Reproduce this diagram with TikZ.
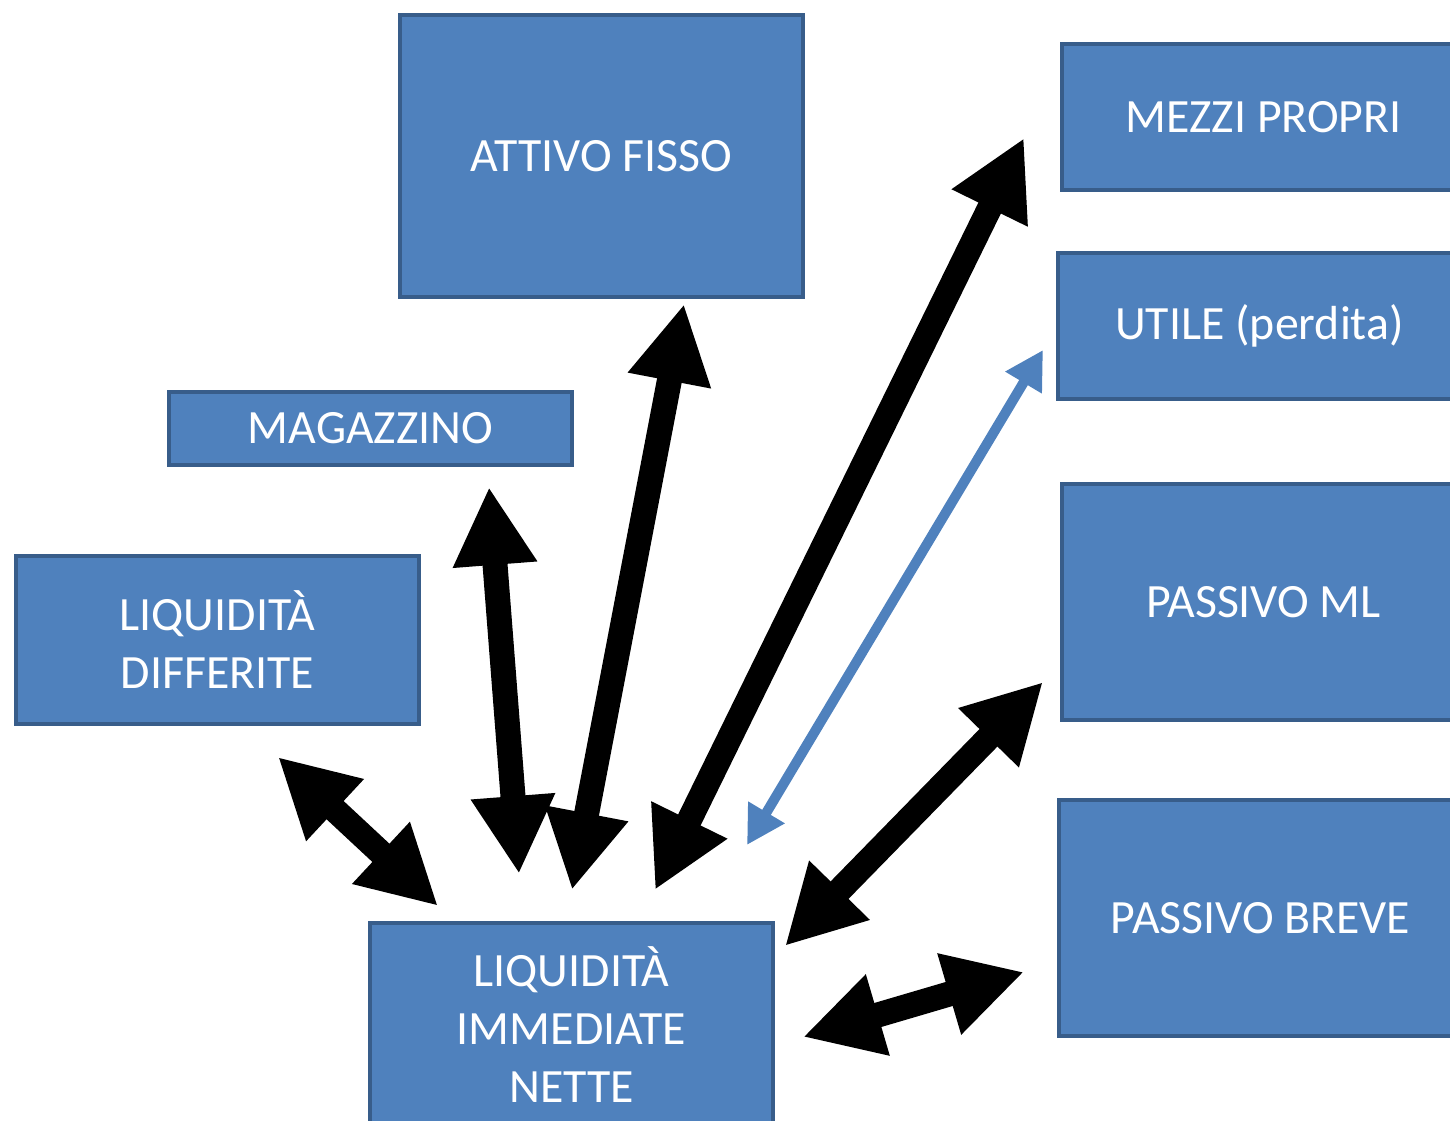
\documentclass[tikz,border=0pt]{standalone}
\usepackage{fontspec}
\setmainfont{Carlito}
\usetikzlibrary{arrows.meta}
\definecolor{boxfill}{HTML}{4F81BD}
\definecolor{boxline}{HTML}{385D8A}
\tikzset{
  conto/.style={draw=boxline, fill=boxfill, line width=1.1pt, text=white, align=center,
    inner sep=0pt, font=\fontsize{13.6}{16.5}\selectfont},
  flusso/.style={line width=0.25cm,
    {Triangle[width=0.79cm,length=0.78cm]}-{Triangle[width=0.79cm,length=0.78cm]}},
  flussoblu/.style={draw=boxfill, line width=0.1cm,
    {Triangle[width=0.4cm,length=0.38cm]}-{Triangle[width=0.4cm,length=0.38cm]}},
}

\begin{document}
\begin{tikzpicture}
	\useasboundingbox (0,0) rectangle (14.5,11.21);
	% attivo
	\node[conto, minimum width=4.03cm, minimum height=2.82cm] (attivo) at (6.015,9.65) {ATTIVO FISSO};
	\node[conto, minimum width=4.03cm, minimum height=0.73cm] (magazzino) at (3.705,6.925) {MAGAZZINO};
	\node[conto, minimum width=4.03cm, minimum height=1.68cm] (differite) at (2.175,4.81) {LIQUIDITÀ\\DIFFERITE};
	\node[conto, minimum width=4.03cm, minimum height=2.04cm] (immediate) at (5.715,0.96) {LIQUIDITÀ\\IMMEDIATE\\NETTE};
	% passivo
	\node[conto, minimum width=4.03cm, minimum height=1.46cm] (mezzi) at (12.635,10.04) {MEZZI PROPRI};
	\node[conto, minimum width=4.03cm, minimum height=1.46cm] (utile) at (12.595,7.95) {UTILE (perdita)};
	\node[conto, minimum width=4.03cm, minimum height=2.36cm] (ml) at (12.635,5.19) {PASSIVO ML};
	\node[conto, minimum width=4.03cm, minimum height=2.36cm] (breve) at (12.605,2.03) {PASSIVO BREVE};
	% punte delle frecce
	\coordinate (differite-f) at (2.78,3.64);   \coordinate (immediate-d) at (4.38,2.15);
	\coordinate (magazzino-f) at (4.89,6.34);   \coordinate (immediate-m) at (5.19,2.47);
	\coordinate (attivo-f) at (6.84,8.17);      \coordinate (immediate-a) at (5.72,2.31);
	\coordinate (mezzi-f) at (10.24,9.83);      \coordinate (immediate-p) at (6.55,2.31);
	\coordinate (utile-f) at (10.43,7.71);      \coordinate (immediate-u) at (7.47,2.76);
	\coordinate (ml-f) at (10.43,4.39);         \coordinate (immediate-l) at (7.85,1.75);
	\coordinate (breve-f) at (10.24,1.49);      \coordinate (immediate-b) at (8.03,0.84);
	% flussi
	\draw[flusso] (differite-f) -- (immediate-d);
	\draw[flusso] (magazzino-f) -- (immediate-m);
	\draw[flusso] (attivo-f) -- (immediate-a);
	\draw[flusso] (mezzi-f) -- (immediate-p);
	\draw[flussoblu] (utile-f) -- (immediate-u);
	\draw[flusso] (ml-f) -- (immediate-l);
	\draw[flusso] (breve-f) -- (immediate-b);
\end{tikzpicture}
\end{document}
